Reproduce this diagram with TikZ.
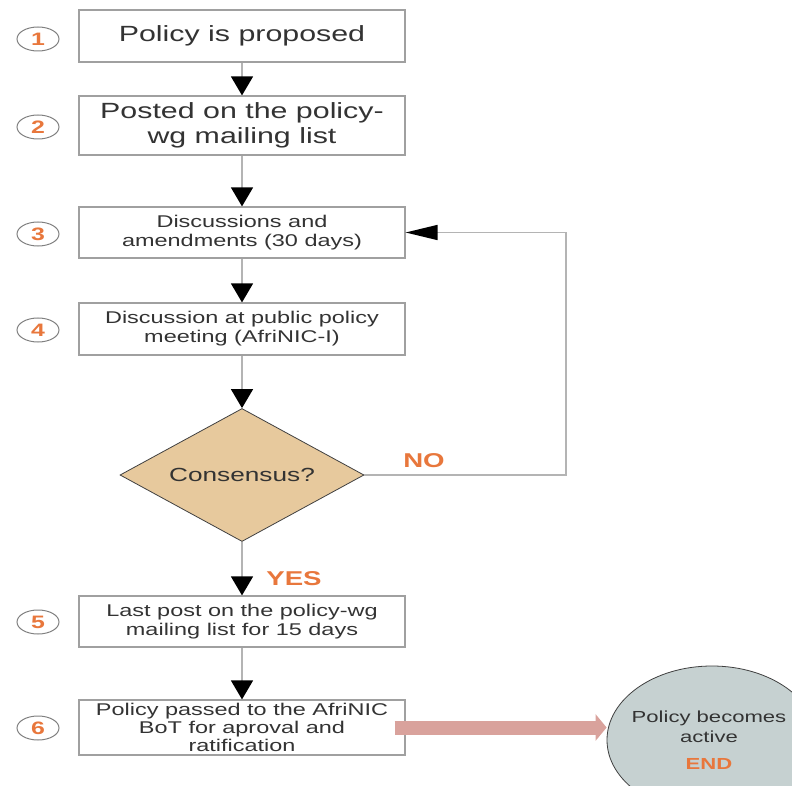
\documentclass[tikz,border=0pt]{standalone}
\usepackage{fontspec}
\setmainfont[FakeStretch=1.38]{Liberation Sans}
\usetikzlibrary{arrows.meta,shapes.geometric}
\definecolor{txt}{HTML}{333333}
\definecolor{org}{HTML}{E8773C}
\definecolor{boxline}{HTML}{A0A0A0}
\definecolor{connc}{HTML}{B4B4B4}
\definecolor{tanfill}{HTML}{E7C99D}
\definecolor{endfill}{HTML}{C6D1D1}
\definecolor{pinkarr}{HTML}{D9A29C}
\begin{document}
\begin{tikzpicture}[x=1pt,y=-1pt,
  stepbox/.style={draw=boxline, line width=1.2pt, minimum width=326pt, inner sep=0pt, align=center, text=txt, fill=white},
  bigtxt/.style={font=\fontsize{22}{25}\selectfont},
  smalltxt/.style={font=\fontsize{17}{19}\selectfont},
  num/.style={ellipse, draw=gray, line width=1pt, minimum width=42pt, minimum height=24pt, inner sep=0pt, text=org, font=\fontsize{18}{18}\selectfont\bfseries},
  conn/.style={draw=connc, line width=1.5pt},
  down/.style={conn, -{Triangle[length=19pt,width=22pt,color=black]}},
  lab/.style={text=org, font=\fontsize{20}{20}\selectfont\bfseries},
]
\useasboundingbox (0,0) rectangle (792,786);
% boxes
\node[stepbox, bigtxt, minimum height=52pt] (b1) at (242,36) {Policy is proposed};
\node[stepbox, bigtxt, minimum height=59pt] (b2) at (242,125.5) {Posted on the policy-\\wg mailing list};
\node[stepbox, smalltxt, minimum height=51pt] (b3) at (242,232.5) {Discussions and\\amendments (30 days)};
\node[stepbox, smalltxt, minimum height=52pt] (b4) at (242,329) {Discussion at public policy\\meeting (AfriNIC-I)};
\node[diamond, aspect=2.2, draw=darkgray, line width=0.8pt, fill=tanfill, minimum width=244pt, minimum height=133pt, inner sep=0pt, text=txt, font=\fontsize{19}{19}\selectfont] (dia) at (242,475) {Consensus?};
\node[stepbox, smalltxt, minimum height=51pt] (b5) at (242,621.5) {Last post on the policy-wg\\mailing list for 15 days};
\node[stepbox, font=\fontsize{17}{18}\selectfont, minimum height=55pt] (b6) at (242,727.5) {Policy passed to the AfriNIC\\BoT for aproval and\\ratification};
% numbers
\node[num] (n1) at (38,39) {1};
\node[num] (n2) at (38,127) {2};
\node[num] (n3) at (38,234) {3};
\node[num] (n4) at (38,330) {4};
\node[num] (n5) at (38,622) {5};
\node[num] (n6) at (38,728) {6};
% end
\node[ellipse, draw=darkgray, line width=0.8pt, fill=endfill, minimum width=210pt, minimum height=148pt, inner sep=0pt] (end) at (712,740) {};
\node[align=center, text=txt, font=\fontsize{16}{20}\selectfont, inner sep=0pt] (endtxt) at ([xshift=-3pt]end.center) {Policy becomes\\active\\[7pt]{\color{org}\bfseries END}};
% connectors
\draw[down] (b1) -- (b2);
\draw[down] (b2) -- (b3);
\draw[down] (b3) -- (b4);
\draw[down] (b4) -- (dia);
\draw[down] (dia) -- (b5);
\draw[down] (b5) -- (b6);
\coordinate (loopc) at (566,475);
\draw[conn, -{Triangle[length=32pt,width=15pt,color=black]}] (dia.east) -- (loopc) |- (b3.east);
\draw[pinkarr, line width=14pt, -{Triangle[length=11pt,width=26pt]}] ([xshift=-11pt]b6.east) -- (b6.east -| end.west);
% labels
\node[lab] (no) at (424,461) {NO};
\node[lab] (yes) at (294,579) {YES};
\end{tikzpicture}
\end{document}
